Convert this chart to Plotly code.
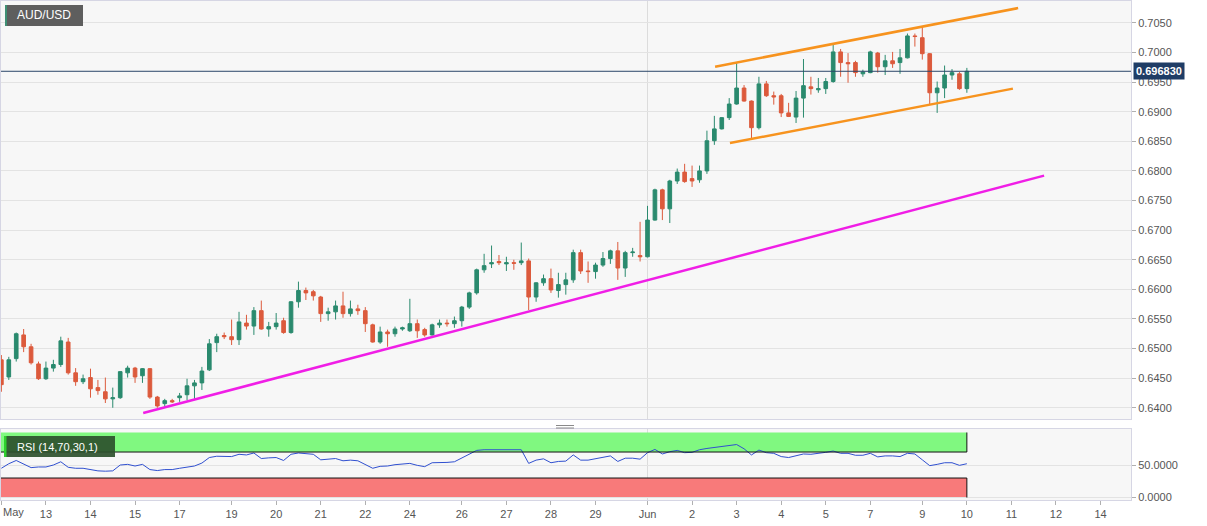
import plotly.graph_objects as go
from plotly.subplots import make_subplots

# AUD/USD 4H candles, 12 May - 10 Jun
opens = [0.6481, 0.6452, 0.6483, 0.6523, 0.6503, 0.6474, 0.6449, 0.6467, 0.6473, 0.6511,
         0.6459, 0.6444, 0.6451, 0.6434, 0.6427, 0.6415, 0.6417, 0.6459, 0.6467, 0.6454,
         0.6466, 0.6418, 0.6407, 0.6412, 0.6417, 0.6422, 0.6437, 0.6442, 0.6464, 0.6510,
         0.6522, 0.6520, 0.6515, 0.6543, 0.6538, 0.6564, 0.6533, 0.6537, 0.6547, 0.6527,
         0.6579, 0.6598, 0.6596, 0.6587, 0.6559, 0.6562, 0.6572, 0.6559, 0.6567, 0.6564,
         0.6540, 0.6511, 0.6528, 0.6525, 0.6533, 0.6530, 0.6542, 0.6532, 0.6523, 0.6540,
         0.6543, 0.6542, 0.6547, 0.6570, 0.6594, 0.6633, 0.6643, 0.6647, 0.6643, 0.6645,
         0.6645, 0.6648, 0.6587, 0.6611, 0.6618, 0.6598, 0.6608, 0.6616, 0.6662, 0.6631,
         0.6630, 0.6641, 0.6652, 0.6665, 0.6636, 0.6662, 0.6657, 0.6655, 0.6717, 0.6768,
         0.6736, 0.6783, 0.6798, 0.6787, 0.6785, 0.6800, 0.6851, 0.6871, 0.6890, 0.6913,
         0.6940, 0.6918, 0.6873, 0.6947, 0.6927, 0.6927, 0.6898, 0.6891, 0.6923, 0.6942,
         0.6937, 0.6939, 0.6951, 0.7001, 0.6983, 0.6983, 0.6964, 0.6966, 0.6999, 0.6976,
         0.6986, 0.6983, 0.6991, 0.7028, 0.7025, 0.6998, 0.6932, 0.6940, 0.6962, 0.6964,
         0.6939]
highs = [0.6489, 0.6486, 0.6527, 0.6533, 0.6508, 0.6478, 0.6478, 0.6481, 0.6520, 0.6518,
         0.6467, 0.6456, 0.6466, 0.6447, 0.6451, 0.6434, 0.6462, 0.6471, 0.6469, 0.6467,
         0.6467, 0.6420, 0.6415, 0.6415, 0.6425, 0.6449, 0.6447, 0.6469, 0.6516, 0.6525,
         0.6527, 0.6549, 0.6562, 0.6557, 0.6570, 0.6581, 0.6545, 0.6560, 0.6552, 0.6580,
         0.6613, 0.6603, 0.6599, 0.6589, 0.6569, 0.6581, 0.6596, 0.6581, 0.6574, 0.6570,
         0.6542, 0.6537, 0.6532, 0.6537, 0.6537, 0.6584, 0.6549, 0.6535, 0.6542, 0.6549,
         0.6549, 0.6554, 0.6572, 0.6596, 0.6635, 0.6660, 0.6674, 0.6658, 0.6655, 0.6650,
         0.6679, 0.6652, 0.6612, 0.6625, 0.6635, 0.6628, 0.6628, 0.6667, 0.6667, 0.6647,
         0.6645, 0.6663, 0.6667, 0.6680, 0.6665, 0.6670, 0.6714, 0.6741, 0.6770, 0.6770,
         0.6785, 0.6804, 0.6812, 0.6809, 0.6809, 0.6868, 0.6893, 0.6891, 0.6923, 0.6983,
         0.6945, 0.6919, 0.6959, 0.6952, 0.6934, 0.6930, 0.6915, 0.6935, 0.6989, 0.6959,
         0.6957, 0.6957, 0.7016, 0.7006, 0.6999, 0.6986, 0.6971, 0.7003, 0.7001, 0.6996,
         0.7001, 0.7006, 0.7032, 0.7032, 0.7043, 0.6999, 0.6951, 0.6978, 0.6972, 0.6967,
         0.6974]
lows = [0.6427, 0.6447, 0.6478, 0.6494, 0.6473, 0.6447, 0.6447, 0.6461, 0.6469, 0.6456,
        0.6437, 0.6440, 0.6417, 0.6422, 0.6408, 0.6400, 0.6415, 0.6451, 0.6442, 0.6442,
        0.6415, 0.6400, 0.6402, 0.6408, 0.6410, 0.6413, 0.6415, 0.6430, 0.6462, 0.6494,
        0.6516, 0.6506, 0.6506, 0.6532, 0.6523, 0.6532, 0.6520, 0.6532, 0.6525, 0.6525,
        0.6569, 0.6582, 0.6581, 0.6545, 0.6547, 0.6549, 0.6552, 0.6554, 0.6557, 0.6528,
        0.6510, 0.6508, 0.6503, 0.6520, 0.6530, 0.6528, 0.6518, 0.6520, 0.6522, 0.6535,
        0.6537, 0.6535, 0.6537, 0.6567, 0.6591, 0.6628, 0.6636, 0.6641, 0.6631, 0.6633,
        0.6641, 0.6565, 0.6579, 0.6606, 0.6594, 0.6586, 0.6591, 0.6611, 0.6626, 0.6611,
        0.6618, 0.6638, 0.6643, 0.6616, 0.6621, 0.6655, 0.6647, 0.6654, 0.6716, 0.6717,
        0.6712, 0.6778, 0.6780, 0.6773, 0.6780, 0.6795, 0.6844, 0.6870, 0.6886, 0.6912,
        0.6917, 0.6854, 0.6870, 0.6925, 0.6912, 0.6891, 0.6891, 0.6881, 0.6890, 0.6929,
        0.6932, 0.6930, 0.6949, 0.6959, 0.6949, 0.6959, 0.6959, 0.6965, 0.6966, 0.6962,
        0.6974, 0.6964, 0.6990, 0.7010, 0.6988, 0.6912, 0.6898, 0.6923, 0.6954, 0.6937,
        0.6932]
closes = [0.6439, 0.6481, 0.6525, 0.6503, 0.6476, 0.6449, 0.6467, 0.6473, 0.6513, 0.6459,
          0.6444, 0.6449, 0.6432, 0.6429, 0.6415, 0.6417, 0.6461, 0.6467, 0.6452, 0.6466,
          0.6418, 0.6403, 0.6412, 0.6410, 0.6420, 0.6437, 0.6442, 0.6462, 0.6508, 0.6520,
          0.6520, 0.6515, 0.6545, 0.6538, 0.6564, 0.6533, 0.6537, 0.6543, 0.6527, 0.6579,
          0.6598, 0.6594, 0.6589, 0.6559, 0.6562, 0.6572, 0.6559, 0.6567, 0.6564, 0.6542,
          0.6511, 0.6528, 0.6525, 0.6533, 0.6535, 0.6542, 0.6530, 0.6523, 0.6540, 0.6543,
          0.6542, 0.6547, 0.6570, 0.6594, 0.6633, 0.6640, 0.6645, 0.6645, 0.6645, 0.6644,
          0.6648, 0.6587, 0.6611, 0.6618, 0.6599, 0.6608, 0.6616, 0.6662, 0.6631, 0.6630,
          0.6641, 0.6652, 0.6665, 0.6636, 0.6662, 0.6663, 0.6655, 0.6717, 0.6768, 0.6736,
          0.6783, 0.6798, 0.6782, 0.6783, 0.6800, 0.6851, 0.6871, 0.6890, 0.6913, 0.6940,
          0.6918, 0.6873, 0.6947, 0.6927, 0.6925, 0.6898, 0.6892, 0.6923, 0.6944, 0.6939,
          0.6939, 0.6951, 0.7001, 0.6983, 0.6981, 0.6966, 0.6967, 0.7001, 0.6976, 0.6986,
          0.6981, 0.6991, 0.7028, 0.7027, 0.6998, 0.6932, 0.6940, 0.6962, 0.6966, 0.6939,
          0.69683]
rsi = [45, 52, 57, 52, 46, 47, 47, 50, 55, 46.5,
       45, 45, 42.5, 41, 40.5, 41, 50, 51, 48.5, 51,
       43, 41.5, 43, 43, 45, 47, 48.5, 53, 61.5, 63.5,
       63, 63, 66.5, 65.5, 68.5, 60, 61, 61.5, 57, 66.5,
       68.5, 67.5, 66.5, 58, 58.5, 60, 56.5, 57.5, 56.5, 50.5,
       45, 48, 48.5, 50.5, 51, 52.5, 49.5, 47.5, 53.5, 53.5,
       54, 55, 60.5, 66, 72.5, 73.5, 73.5, 73.5, 73.5, 73.5,
       73.5, 52.5, 57.5, 59.5, 53.5, 55.5, 56, 65.5, 57.5, 57.5,
       60, 62.5, 64, 55.5, 60.5, 60.5, 59, 69, 74, 67,
       70.5, 72.5, 69, 69.5, 73.5, 75.5, 77, 78, 79, 81.5,
       75, 65.5, 73, 69, 68, 63, 61.5, 64.5, 67, 66.5,
       67.5, 69.5, 71.5, 68, 68, 65, 65, 68, 62.5, 64,
       64, 63, 68, 67, 58, 49, 51, 53.5, 53.5, 49.5,
       52]

last_price = 0.69683

# day ticks, in candle numbers (first label is drawn separately so it is not cut off)
tick_pos = [0, 6, 12, 18, 24, 31, 37, 43, 49, 55, 62, 68, 74, 80, 87,
            93, 99, 105, 111, 117, 124, 130, 136, 142, 148]
tick_text = ["", "13", "14", "15", "17", "19", "20", "21", "22", "24", "26", "27", "28", "29", "Jun",
             "2", "3", "4", "5", "7", "9", "10", "11", "12", "14"]
first_label = "May"

# trend lines drawn on the chart
support_x = [19.1, 140.4]
support_y = [0.6391, 0.6792]
chan_top_x = [96.1, 136.9]
chan_top_y = [0.6976, 0.7075]
chan_bot_x = [98.1, 136.2]
chan_bot_y = [0.6847, 0.6939]

idx = list(range(len(closes)))
GREEN = "#2a8a6e"
RED = "#dc5a3c"
FONT = "Liberation Sans, Arial, sans-serif"
FRAME = "#d6d6e4"

fig = make_subplots(rows=2, cols=1, shared_xaxes=True)

fig.add_trace(go.Candlestick(x=idx, open=opens, high=highs, low=lows, close=closes,
                             increasing=dict(line=dict(color=GREEN, width=1), fillcolor=GREEN),
                             decreasing=dict(line=dict(color=RED, width=1), fillcolor=RED),
                             whiskerwidth=0, hoverinfo="skip", showlegend=False), row=1, col=1)

fig.add_trace(go.Scatter(x=support_x, y=support_y, mode="lines",
                         line=dict(color="#f01ee6", width=2.5), showlegend=False), row=1, col=1)
fig.add_trace(go.Scatter(x=chan_top_x, y=chan_top_y, mode="lines",
                         line=dict(color="#f7931e", width=2.5), showlegend=False), row=1, col=1)
fig.add_trace(go.Scatter(x=chan_bot_x, y=chan_bot_y, mode="lines",
                         line=dict(color="#f7931e", width=2.5), showlegend=False), row=1, col=1)

fig.add_trace(go.Scatter(x=idx, y=rsi, mode="lines", line=dict(color="#3050d0", width=1),
                         showlegend=False), row=2, col=1)

x_range = [-0.05, 152.1]
last_i = idx[-1]

shapes = []
# month separator
shapes.append(dict(type="line", xref="x", yref="y domain", x0=87, x1=87, y0=0, y1=1,
                   line=dict(color="#dcdcdc", width=1), layer="below"))
shapes.append(dict(type="line", xref="x2", yref="y2 domain", x0=87, x1=87, y0=0, y1=1,
                   line=dict(color="#dcdcdc", width=1), layer="below"))
# RSI zones
shapes.append(dict(type="rect", xref="x2", yref="y2", x0=x_range[0], x1=last_i, y0=70, y1=100,
                   fillcolor="#80f880", line=dict(width=0), layer="below"))
shapes.append(dict(type="rect", xref="x2", yref="y2", x0=x_range[0], x1=last_i, y0=0, y1=30,
                   fillcolor="#f87a7a", line=dict(width=0), layer="below"))
for lvl, lo, hi in [(70, 70, 100), (30, 0, 30)]:
    shapes.append(dict(type="line", xref="x2", yref="y2", x0=x_range[0], x1=last_i, y0=lvl, y1=lvl,
                       line=dict(color="#111111", width=1)))
    shapes.append(dict(type="line", xref="x2", yref="y2", x0=last_i, x1=last_i, y0=lo, y1=hi,
                       line=dict(color="#111111", width=1)))
# last price line
shapes.append(dict(type="line", xref="x domain", yref="y", x0=0, x1=1, y0=last_price, y1=last_price,
                   line=dict(color="#2a4568", width=1)))

# label boxes (paper coords from pixel positions)
W, H = 1130.0, 499.0


def px(x):
    return (x - 1) / W


def py(y):
    return (500 - y) / H


shapes.append(dict(type="rect", xref="paper", yref="paper", x0=px(5), x1=px(83), y0=py(26), y1=py(5),
                   fillcolor="#5e5e5e", line=dict(width=0)))
shapes.append(dict(type="rect", xref="paper", yref="paper", x0=px(5), x1=px(7), y0=py(26), y1=py(5),
                   fillcolor="#3f8f74", line=dict(width=0)))
shapes.append(dict(type="rect", xref="paper", yref="paper", x0=px(4), x1=px(115), y0=py(457), y1=py(436),
                   fillcolor="rgba(45,80,45,0.92)", line=dict(width=0)))
shapes.append(dict(type="rect", xref="paper", yref="paper", x0=px(4), x1=px(6.5), y0=py(457), y1=py(436),
                   fillcolor="#2fd02f", line=dict(width=0)))
# pane splitter
for yy in [425.5, 428]:
    shapes.append(dict(type="line", xref="paper", yref="paper", x0=px(556), x1=px(574), y0=py(yy), y1=py(yy),
                       line=dict(color="#8a8a8a", width=1)))

annotations = [
    dict(xref="paper", yref="paper", x=px(15), y=py(15.5), xanchor="left", yanchor="middle",
         text="AUD/USD", showarrow=False, font=dict(family=FONT, size=12, color="white")),
    dict(xref="paper", yref="paper", x=px(15), y=py(446.5), xanchor="left", yanchor="middle",
         text="RSI (14,70,30,1)", showarrow=False, font=dict(family=FONT, size=11, color="white")),
    dict(xref="paper", yref="y", x=1, y=last_price, xanchor="left", yanchor="middle", xshift=2,
         text="<b>0.696830</b>", showarrow=False, bgcolor="#1f3d66", borderpad=2,
         font=dict(family=FONT, size=11, color="white")),
    dict(xref="paper", yref="paper", x=0, y=py(512), xanchor="left", yanchor="middle",
         text=first_label, showarrow=False, font=dict(family=FONT, size=11, color="#555555")),
]

fig.update_layout(
    width=1207, height=526,
    margin=dict(l=1, r=76, t=1, b=26),
    paper_bgcolor="white",
    plot_bgcolor="#f7f7f7",
    font=dict(family=FONT, size=11, color="#555555"),
    shapes=shapes,
    annotations=annotations,
    hovermode=False,
    xaxis=dict(range=x_range, showgrid=False, zeroline=False, showticklabels=False,
               showline=True, mirror=True, linecolor=FRAME, rangeslider=dict(visible=False)),
    xaxis2=dict(range=x_range, showgrid=False, zeroline=False, tickmode="array",
                tickvals=tick_pos, ticktext=tick_text, ticks="outside", ticklen=4, tickcolor="#b0b0b0",
                showline=True, mirror=True, linecolor=FRAME, tickfont=dict(size=11, color="#555555")),
    yaxis=dict(domain=[py(419), 1], range=[0.6381, 0.7087], side="right", dtick=0.005,
               tick0=0.64, tickformat=".4f", gridcolor="#e3e3e3", zeroline=False,
               ticks="outside", ticklen=4, tickcolor="#b0b0b0", showline=True, mirror=True,
               linecolor=FRAME, tickfont=dict(size=11, color="#555555")),
    yaxis2=dict(domain=[0, py(429)], range=[-3.8, 105.4], side="right", tickvals=[0, 50],
                ticktext=["0.0000", "50.0000"], gridcolor="#e3e3e3", zeroline=False,
                ticks="outside", ticklen=4, tickcolor="#b0b0b0", showline=True, mirror=True,
                linecolor=FRAME, tickfont=dict(size=11, color="#555555")),
)

fig.write_html("out.html", config={"displayModeBar": False},
               post_script="document.body.style.margin='0';")
